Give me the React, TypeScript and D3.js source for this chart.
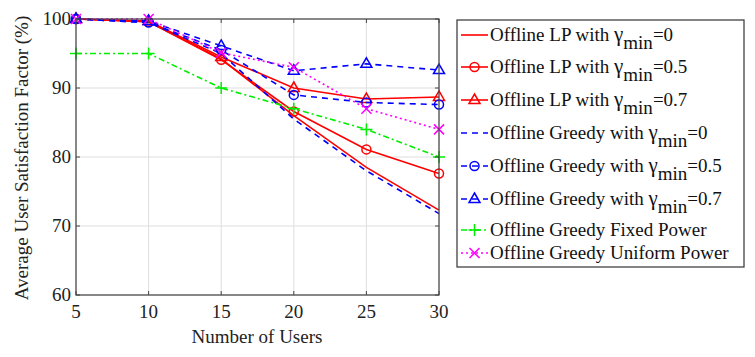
import React from 'react';
import * as d3 from 'd3';

const users = [5, 10, 15, 20, 25, 30];
const lp0 = [100, 99.6, 94.2, 86.0, 78.5, 72.3];
const lp05 = [100, 99.6, 94.1, 86.6, 81.1, 77.6];
const lp07 = [100, 99.7, 94.5, 90.0, 88.4, 88.7];
const greedy0 = [100, 99.5, 95.0, 85.5, 78.0, 71.8];
const greedy05 = [100, 99.5, 95.5, 89.0, 87.9, 87.6];
const greedy07 = [100, 99.7, 96.1, 92.5, 93.5, 92.6];
const fixedPower = [95, 95, 90, 87, 84, 80];
const uniformPower = [100, 100, 95.1, 93, 87, 84];
const yTicks = [60, 70, 80, 90, 100];

const MARGIN = { left: 76, right: 439, top: 19, bottom: 295 };
const FONT = "'Liberation Serif', 'Times New Roman', Times, 'DejaVu Serif', serif";
const TXT = { fontFamily: FONT };

type Series = {
  name: string;
  gamma?: string;
  values: number[];
  color: string;
  dash: string;
  marker: 'none' | 'circle' | 'triangle' | 'plus' | 'cross';
};

const series: Series[] = [
  { name: 'Offline LP with ', gamma: '0', values: lp0, color: '#ff0000', dash: '', marker: 'none' },
  { name: 'Offline LP with ', gamma: '0.5', values: lp05, color: '#ff0000', dash: '', marker: 'circle' },
  { name: 'Offline LP with ', gamma: '0.7', values: lp07, color: '#ff0000', dash: '', marker: 'triangle' },
  { name: 'Offline Greedy with ', gamma: '0', values: greedy0, color: '#0000ff', dash: '6,5', marker: 'none' },
  { name: 'Offline Greedy with ', gamma: '0.5', values: greedy05, color: '#0000ff', dash: '6,5', marker: 'circle' },
  { name: 'Offline Greedy with ', gamma: '0.7', values: greedy07, color: '#0000ff', dash: '6,5', marker: 'triangle' },
  { name: 'Offline Greedy Fixed Power', values: fixedPower, color: '#00ee00', dash: '6,3,2,3', marker: 'plus' },
  { name: 'Offline Greedy Uniform Power', values: uniformPower, color: '#ff00ff', dash: '2,3', marker: 'cross' },
];

const Marker = ({ type, x, y, color }: { type: Series['marker']; x: number; y: number; color: string }) => {
  const p = { stroke: color, strokeWidth: 1.5, fill: 'none' };
  if (type === 'circle') return <circle cx={x} cy={y} r={4.5} {...p} />;
  if (type === 'triangle')
    return <path d={`M${x},${y - 6}L${x + 5.5},${y + 3.5}L${x - 5.5},${y + 3.5}Z`} {...p} />;
  if (type === 'plus') return <path d={`M${x - 6},${y}H${x + 6}M${x},${y - 6}V${y + 6}`} {...p} />;
  if (type === 'cross') return <path d={`M${x - 5},${y - 5}L${x + 5},${y + 5}M${x + 5},${y - 5}L${x - 5},${y + 5}`} {...p} />;
  return null;
};

const Chart = () => {
  const x = d3.scaleLinear().domain([5, 30]).range([MARGIN.left, MARGIN.right]);
  const y = d3.scaleLinear().domain([60, 100]).range([MARGIN.bottom, MARGIN.top]);
  const line = d3
    .line<number>()
    .x((_, i) => x(users[i]))
    .y((d) => y(d));

  const legendRows = [35, 67, 100, 133, 166, 199, 230, 253];

  return (
    <svg width={755} height={357} style={{ display: 'block', position: 'absolute', left: 0, top: 0 }}>
      <rect width={755} height={357} fill="#fff" />
      {/* rejilla */}
      {users.map((u) => (
        <line key={`gx${u}`} x1={x(u)} x2={x(u)} y1={MARGIN.top} y2={MARGIN.bottom} stroke="#dedede" />
      ))}
      {yTicks.map((t) => (
        <line key={`gy${t}`} x1={MARGIN.left} x2={MARGIN.right} y1={y(t)} y2={y(t)} stroke="#dedede" />
      ))}

      {/* series */}
      {series.map((s, i) => (
        <g key={i}>
          <path d={line(s.values) || ''} fill="none" stroke={s.color} strokeWidth={1.6} strokeDasharray={s.dash} />
          {s.values.map((v, j) => (
            <Marker key={j} type={s.marker} x={x(users[j])} y={y(v)} color={s.color} />
          ))}
        </g>
      ))}

      {/* caja y ticks */}
      <rect
        x={MARGIN.left}
        y={MARGIN.top}
        width={MARGIN.right - MARGIN.left}
        height={MARGIN.bottom - MARGIN.top}
        fill="none"
        stroke="#444"
        strokeWidth={1.2}
      />
      {users.map((u) => (
        <g key={`tx${u}`}>
          <line x1={x(u)} x2={x(u)} y1={MARGIN.bottom} y2={MARGIN.bottom - 4} stroke="#444" />
          <line x1={x(u)} x2={x(u)} y1={MARGIN.top} y2={MARGIN.top + 4} stroke="#444" />
          <text x={x(u)} y={MARGIN.bottom + 23} textAnchor="middle" fontSize={19} fill="#222" style={TXT}>
            {u}
          </text>
        </g>
      ))}
      {yTicks.map((t) => (
        <g key={`ty${t}`}>
          <line x1={MARGIN.left} x2={MARGIN.left + 4} y1={y(t)} y2={y(t)} stroke="#444" />
          <line x1={MARGIN.right} x2={MARGIN.right - 4} y1={y(t)} y2={y(t)} stroke="#444" />
          <text x={MARGIN.left - 5} y={y(t) + 6} textAnchor="end" fontSize={19} fill="#222" style={TXT}>
            {t}
          </text>
        </g>
      ))}
      <text x={257} y={343} textAnchor="middle" fontSize={19} fill="#222" style={TXT}>
        Number of Users
      </text>
      <text
        transform={`translate(28, 158) rotate(-90)`}
        textAnchor="middle"
        fontSize={19}
        fill="#222"
        style={TXT}
      >
        Average User Satisfaction Factor (%)
      </text>

      {/* leyenda */}
      <rect x={457} y={20} width={287} height={247} fill="#fff" stroke="#333" strokeWidth={1.2} />
      {series.map((s, i) => {
        const ly = legendRows[i];
        return (
          <g key={`lg${i}`}>
            <line x1={461} x2={488} y1={ly} y2={ly} stroke={s.color} strokeWidth={1.6} strokeDasharray={s.dash} />
            <Marker type={s.marker} x={474.5} y={ly} color={s.color} />
            <text x={490} y={ly + 6} fontSize={19} fill="#111" style={TXT}>
              {s.name}
              {s.gamma !== undefined && (
                <>
                  <tspan fontSize={21}>γ</tspan>
                  <tspan dy={8} fontSize={19}>min</tspan>
                  <tspan dy={-8}>={s.gamma}</tspan>
                </>
              )}
            </text>
          </g>
        );
      })}
    </svg>
  );
};

export default function App() {
  return <Chart />;
}
